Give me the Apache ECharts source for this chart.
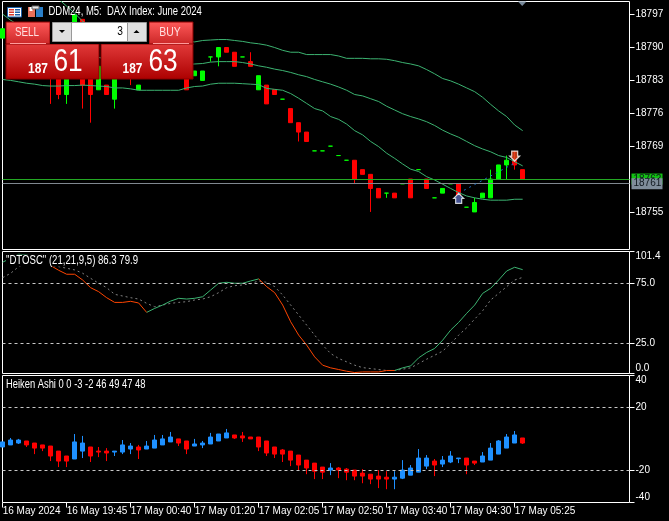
<!DOCTYPE html>
<html><head><meta charset="utf-8">
<style>html,body{margin:0;padding:0;background:#000}#c{width:669px;height:521px}</style>
<script src="https://cdn.jsdelivr.net/npm/echarts@6/dist/echarts.min.js"></script></head>
<body><div id="c"></div>
<script>
const tickLabels=["16 May 2024","16 May 19:45","17 May 00:40","17 May 01:20","17 May 02:05","17 May 02:50","17 May 03:40","17 May 04:30","17 May 05:25"];
const priceTicks=[18755,18769,18776,18783,18790,18797];
const oscTicks=[0,25,75,101.4];
const heikenTicks=[-40,-20,20,40];
const bid=18761, ask=18762;
// [open, close, low, high]
const priceCandles=[
[18792,18794,18792,18794],[18791,18792,18790,18793],[18792,18790,18789,18793],[18790,18788,18787,18791],[18788,18789,18787,18790],[18789,18786,18785,18790],
[18788,18785,18778,18789],[18785,18780,18779,18786],[18780,18786,18778,18787],[18786,18797,18785,18797],[18796,18782,18777,18796],[18786,18780,18774,18787],
[18781,18786,18781,18787],[18782,18780,18780,18782],[18779,18784,18777,18785],[18785,18784,18784,18786],[18785,18784,18782,18786],[18781,18782,18781,18782],
[18784,18786,18784,18787],[18786,18785,18784,18787],[18785,18787,18784,18788],[18787,18786,18785,18788],[18786,18784,18784,18787],[18785,18781,18781,18786],
[18784,18785,18784,18785],[18783,18785,18783,18785],[18788,18788,18787,18788],[18788,18790,18786,18790],[18790,18789,18789,18790],[18789,18786,18786,18789],
[18788,18788,18788,18788],[18787,18786,18786,18789],[18781,18784,18781,18784],[18782,18778,18778,18782],[18781,18780,18780,18781],[18779,18779,18779,18779],
[18777,18774,18774,18777],[18774,18772,18770,18774],[18772,18770,18770,18772],[18768,18768,18768,18768],[18768,18768,18768,18768],[18769,18769,18769,18769],
[18767,18767,18767,18767],[18766,18766,18766,18766],[18766,18762,18761,18766],[18764,18763,18763,18764],[18763,18760,18755,18763],[18760,18758,18758,18760],
[18759,18759,18758,18759],[18759,18758,18758,18759],[18761,18761,18761,18761],[18762,18758,18758,18762],[18764,18764,18764,18764],[18762,18760,18760,18762],
[18758,18758,18758,18758],[18759,18760,18759,18760],[18761,18761,18761,18761],[18761,18757,18757,18761],[18756,18756,18756,18756],[18755,18757,18755,18758],
[18758,18759,18758,18759],[18758,18762,18758,18764],[18762,18765,18762,18765],[18765,18766,18762,18767],[18766,18765,18764,18768],[18764,18762,18762,18764]];
const upperBand=[null,null,null,null,null,null,18802,18800.3,18798.8,18797.3,18795.6,18794.4,18793.9,18793.4,18793,18792.7,18792.4,18792.2,18792,18791.8,18791.6,18791.5,18791.4,18791.3,18791.2,18791.5,18791.6,18791.7,18791.7,18791.5,18791.3,18791,18790.8,18790.5,18790,18789.4,18789,18789,18788.5,18788.5,18788.5,18788.5,18788.2,18787.7,18787.7,18787.7,18787.6,18787.6,18787.5,18787.2,18786.8,18786.5,18786.1,18785.3,18784.4,18783.4,18782.9,18782.2,18781.4,18780.6,18779.4,18777.9,18776.5,18775.3,18773.5,18772.3];
const middleBand=[18797.1,18795.8,18794.8,18793.7,18793,18792.3,18791.6,18790.9,18790.2,18789.5,18788.9,18788.4,18787.9,18787.5,18787.2,18786.9,18786.8,18786.6,18786.5,18786.4,18786.3,18786.3,18786.3,18786.4,18786.5,18786.6,18786.9,18787,18787,18787,18786.8,18786.5,18786.1,18785.8,18785.4,18785.1,18784.7,18784.2,18783.8,18783.2,18782.7,18782.2,18781.6,18780.9,18780,18779.7,18779.1,18778.5,18777.5,18776.7,18775.9,18775.3,18774.8,18774.2,18773.4,18772.4,18771.6,18770.9,18770,18769.1,18768.4,18767.8,18767,18766.6,18765.7,18764.8];
const lowerBand=[18783.2,18783,18782.7,18782.4,18782.2,18781.9,18781.8,18781.8,18781.9,18781.9,18782,18781.9,18781.8,18781.7,18781.4,18781.4,18781.2,18780.9,18780.9,18780.9,18780.9,18780.9,18780.9,18781.4,18781.7,18781.8,18782.2,18782.4,18782.4,18782.4,18782.3,18782.2,18782.1,18781.3,18781.1,18780.9,18780.2,18779.2,18778.1,18777,18776.5,18775.3,18774.7,18773.7,18772.3,18771.4,18770,18768.9,18767.5,18766.4,18765.2,18764.1,18763.6,18762.5,18761.8,18760.9,18760,18759.1,18758.4,18758,18757.7,18757.5,18757.5,18757.5,18757.7,18757.7];
const tradeLine=[[57,18759],[64,18765.4]];
const buyArrows=[[57,18757.9]];
const sellArrows=[[64,18766.9]];
const oscMain=[92.5,95.8,99.1,98.6,96.3,93,89.7,85.8,82.5,82.5,77.7,71.3,68,63,59.1,59.1,60,58.6,50.8,54.1,56.9,60.2,62.5,61.9,62.5,63.8,69.4,75,75.8,75,75,76.9,78.6,72.2,67.2,56.9,43,31.9,23.6,13.8,6.9,4.7,3.3,1.9,0.8,1.3,1.3,1.3,2.5,2.5,4.7,6.3,13,17.5,20.8,27.7,36.1,42.5,50,56.9,66.6,70.8,77.7,85.2,88.3,86.3];
const oscSignal=[79.7,83.3,88.8,91.6,91.6,90.2,89.7,88.8,87.5,86.1,83.3,79.1,75,71.3,65.8,64.4,63,61.9,58.3,55.5,56.9,58.3,59.1,59.7,61.1,61.9,63.8,67.2,71.3,73,73.6,74.7,76.9,75.8,72.2,65.2,56.9,48.6,40.2,31.9,23.6,16.6,12.5,9.7,6.9,4.9,4.1,3.3,2.5,2.5,3.6,4.7,8.3,11.9,15.2,18.6,24.9,31.9,38,45.2,52.2,61.1,66.6,72.2,77.7,79.9];
// index ranges of the main line that are drawn red (falling); the rest is green
const oscFallingRanges=[[6,18],[32,49]];
const heikenCandles=[
[-5.2,-2,-5.2,-2],[-3.9,-0.8,-3.9,0.5],[-2.7,-0.8,-3.3,-0.1],[-1.4,-3.9,-5.2,-1.4],[-2.7,-5.9,-9.7,-2.7],[-3.9,-5.9,-7.8,-3.9],[-4.6,-10.9,-14.1,-4.6],[-7.8,-14.1,-17.9,-7.8],[-10.9,-14.1,-17.9,-10.9],[-12.8,-2,-12.8,3],
[-7.8,-2.7,-12.2,1.8],[-5.2,-10.9,-14.7,-5.2],[-7.8,-8.4,-11.6,-5.2],[-7.8,-9,-14.1,-5.9],[-8.4,-7.8,-10.9,-7.8],[-8.4,-3.9,-9.7,-0.8],[-6.5,-4.6,-9.7,-2.7],[-5.2,-7.1,-12.8,-3.9],[-6.5,-4.6,-6.5,-1.4],[-5.9,-0.8,-5.9,2.4],
[-3.9,-0.1,-3.9,2.4],[-2,1.1,-2,4.3],[-0.1,-2.7,-4.6,-0.1],[-1.4,-6.5,-9.7,-1.4],[-4.6,-3.3,-4.6,-0.1],[-3.9,-2.7,-5.9,-1.4],[-3.3,1.1,-3.3,3.7],[-1.4,3,-1.4,3],[0.5,3.7,0.5,6.2],[2.4,0.5,-0.1,2.4],
[1.8,0.5,-2,4.3],[1.1,-0.1,-0.1,1.1],[1.1,-5.2,-7.8,1.1],[-1.4,-9,-10.9,-1.4],[-5.2,-9.7,-12.2,-5.2],[-7.1,-9.7,-14.7,-6.5],[-7.8,-13.5,-17.3,-7.8],[-10.3,-16.6,-19.8,-10.3],[-13.5,-18.5,-22.4,-13.5],[-15.4,-20.5,-25.5,-15.4],
[-17.9,-21.1,-25.5,-17.9],[-19.8,-18.5,-23,-15.4],[-18.5,-19.8,-24.9,-17.9],[-19.2,-21.1,-26.2,-18.5],[-19.8,-23.6,-26.2,-19.8],[-21.7,-23.6,-28.1,-19.2],[-22.4,-25.5,-28.7,-22.4],[-23.6,-25.5,-31.2,-19.8],[-24.3,-25.5,-31.9,-20.5],[-25.5,-24.3,-31.9,-20.5],
[-24.9,-19.8,-25.5,-13.5],[-23,-18.5,-23,-16.6],[-21.1,-12.2,-21.1,-6.5],[-17.3,-12.2,-19.2,-10.3],[-14.1,-16.6,-23.6,-12.8],[-16,-13.5,-17.9,-10.9],[-14.7,-10.9,-15.4,-7.8],[-12.6,-12.2,-15.4,-12.2],[-12.2,-16.6,-22.4,-12.2],[-14.1,-15.4,-16.6,-14.1],
[-14.7,-10.9,-14.7,-8.4],[-13.5,-5.9,-13.5,-2.7],[-9.7,-1.4,-9.7,-0.8],[-5.9,1.1,-5.9,3],[-2.7,2.4,-2.7,4.9],[0.5,-2.7,-3.3,0.5]];

const FONT='"Liberation Sans"';
const WHITE='#fff';
const categories=Array.from({length:79},(_,i)=>i%8===0?tickLabels[i/8]:' ');
const panels=[{top:1.5,height:248,min:18747,max:18799.8},{top:251.5,height:122,min:0,max:101.4},{top:375.5,height:127,min:-40.3,max:40}];

const grid=[],xAxis=[],yAxis=[];
panels.forEach((p,k)=>{
  grid.push({left:2.67,width:624,top:p.top,height:p.height,show:false,outerBoundsMode:'none'});
  xAxis.push({type:'category',gridIndex:k,data:categories,boundaryGap:false,show:k===2,position:'bottom',
    axisLine:{show:false,onZero:false},splitLine:{show:false},
    axisTick:{show:true,alignWithLabel:true,interval:7,length:5,lineStyle:{color:WHITE}},
    axisLabel:{interval:7,color:WHITE,fontFamily:FONT,fontSize:10,align:'left',margin:4,showMinLabel:true,showMaxLabel:false,hideOverlap:false}});
  yAxis.push({type:'value',gridIndex:k,min:p.min,max:p.max,show:false,splitLine:{show:false}});
});
const customTicks=[priceTicks,oscTicks,heikenTicks];
const fmt=[v=>String(v),v=>v.toFixed(1),v=>String(v)];
panels.forEach((p,k)=>{
  grid.push({left:2.5,width:627,top:p.top,height:p.height,show:true,borderColor:WHITE,borderWidth:1,backgroundColor:'transparent',outerBoundsMode:'none'});
  xAxis.push({type:'value',gridIndex:k+3,min:0,max:1,show:false,splitLine:{show:false}});
  yAxis.push({type:'value',gridIndex:k+3,position:'right',min:p.min,max:p.max,splitLine:{show:false},
    axisLine:{show:false,onZero:false},
    axisTick:{show:true,length:5,customValues:customTicks[k],lineStyle:{color:WHITE}},
    axisLabel:{customValues:customTicks[k],formatter:fmt[k],color:WHITE,fontFamily:FONT,fontSize:10,margin:6,
      hideOverlap:false,showMinLabel:true,showMaxLabel:true,
      verticalAlignMinLabel:k?'bottom':null,verticalAlignMaxLabel:k?'top':null}});
});
const level=(v)=>({yAxis:v});
const dashed={type:[3,3],color:'#c8c8c8',width:1};
function levelSeries(idx,vals){return {type:'line',xAxisIndex:idx,yAxisIndex:idx,data:[],silent:true,
  markLine:{silent:true,symbol:'none',animation:false,label:{show:false},lineStyle:dashed,data:vals.map(level)}};}
function priceLine(v,color,bg,z){return {type:'line',xAxisIndex:3,yAxisIndex:3,data:[],z:z,silent:true,
  markLine:{silent:true,symbol:'none',animation:false,z:z,lineStyle:{type:'solid',color:color,width:1},
    data:[{yAxis:v,label:{show:true,position:'end',distance:2,formatter:String(v),color:'#10181f',backgroundColor:bg,
      fontFamily:FONT,fontSize:10,width:27,height:11,lineHeight:11,align:'left',padding:[0,2,0,2]}}]}};}
function band(d){return {type:'line',xAxisIndex:0,yAxisIndex:0,data:d,showSymbol:false,smooth:false,lineStyle:{color:'#3cb371',width:1},silent:true,z:3};}
function candle(idx,d,up,down){return {type:'candlestick',xAxisIndex:idx,yAxisIndex:idx,data:d,barWidth:4,silent:true,z:2,
  itemStyle:{color:up,color0:down,borderColor:up,borderColor0:down,borderColorDoji:up,borderWidth:1}};}
const inRanges=i=>oscFallingRanges.some(r=>i>=r[0]&&i<=r[1]);
const oscRed=oscMain.map((v,i)=>inRanges(i)?v:null);
const oscGreen=oscMain.map((v,i)=>(!inRanges(i)||oscFallingRanges.some(r=>i===r[0]||i===r[1]))?v:null);
const upPath='path://M5 0L10 5L8 5L8 10L2 10L2 5L0 5Z';
const downPath='path://M2 0L8 0L8 5L10 5L5 10L0 5L2 5Z';

const series=[
  priceLine(ask,'#23a823','#12c012',4),
  priceLine(bid,'#808890','#7f8d9b',5),
  levelSeries(4,[25,75]),levelSeries(5,[-20,20]),
  candle(0,priceCandles,'#00ff00','#ff0000'),
  band(upperBand),band(middleBand),band(lowerBand),
  {type:'line',xAxisIndex:0,yAxisIndex:0,data:tradeLine,showSymbol:false,silent:true,z:6,lineStyle:{color:'#1a6fc4',width:1,type:[2,4]}},
  {type:'scatter',xAxisIndex:0,yAxisIndex:0,data:buyArrows,symbol:upPath,symbolSize:10,silent:true,z:7,itemStyle:{color:'#1464b4',borderColor:'#fff',borderWidth:1.2}},
  {type:'scatter',xAxisIndex:0,yAxisIndex:0,data:sellArrows,symbol:downPath,symbolSize:10,silent:true,z:7,itemStyle:{color:'#e8491e',borderColor:'#fff',borderWidth:1.2}},
  {type:'line',xAxisIndex:1,yAxisIndex:1,data:oscSignal,showSymbol:false,silent:true,z:2,lineStyle:{color:'#808080',width:1,type:[2,3]}},
  {type:'line',xAxisIndex:1,yAxisIndex:1,data:oscGreen,showSymbol:false,silent:true,z:3,lineStyle:{color:'#3cb371',width:1}},
  {type:'line',xAxisIndex:1,yAxisIndex:1,data:oscRed,showSymbol:false,silent:true,z:3,lineStyle:{color:'#ff4500',width:1}},
  candle(2,heikenCandles,'#1e90ff','#ff0000')
];

const grad=(a,b)=>({type:'linear',x:0,y:0,x2:0,y2:1,colorStops:[{offset:0,color:a},{offset:1,color:b}]});
const rect=(x,y,w,h,fill,stroke)=>({type:'rect',z:100,shape:{x,y,width:w,height:h},style:{fill,stroke:stroke||null,lineWidth:stroke?1:0},silent:true});
const txt=(x,y,text,size,opt,sx)=>({type:'text',z:110,x,y,scaleX:sx||1,silent:true,style:Object.assign({text,fill:WHITE,fontFamily:FONT,fontSize:size,verticalAlign:'middle',align:'left'},opt||{})});
const poly=(points,fill)=>({type:'polygon',z:105,shape:{points},style:{fill},silent:true});
const graphic=[
  poly([[518,1.5],[526.5,1.5],[522.2,6]],'#778899'),
  txt(6,260.5,'"DTOSC" (21,21,9,5) 86.3 79.9',12,{backgroundColor:'#000'},0.8),
  txt(6,384.5,'Heiken Ashi 0 0 -3 -2 46 49 47 48',12,null,0.78),
  txt(48.5,11.5,'DDM24, M5:  DAX Index: June 2024',12,null,0.79),
  // menu icons
  rect(7.5,7.5,14,9.5,'#fff','#1b5fa8'),
  rect(9,9,5,1.5,'#d8392b'),rect(9,11.5,5,1.5,'#d8392b'),rect(9,14,5,1.5,'#d8392b'),
  rect(15,9,5,1.5,'#1b5fa8'),rect(15,11.5,5,1.5,'#1b5fa8'),rect(15,14,5,1.5,'#1b5fa8'),
  rect(28,7,7,10,'#e8705a'),rect(29.5,7,3,4,'#fff'),rect(36,7,7,10,'#2a7fc8'),rect(32,6,7,3,'#e8e8e8','#666'),
  // one-click trading panel
  rect(6,22,44,23,grad('#ff5a5a','#c82424'),'#8a0000'),
  rect(149,22,44,23,grad('#ff5a5a','#c82424'),'#8a0000'),
  rect(6,44,93,35,grad('#e23a3a','#ac0000'),'#8a0000'),
  rect(101,44,92,35,grad('#e23a3a','#ac0000'),'#8a0000'),
  rect(10,43,36,1,'#ff9a9a'),rect(153,43,36,1,'#ff9a9a'),
  rect(50,22,99,22,'#000'),
  rect(52.5,22.5,19,19,'#e0e0e0','#999'),rect(71.5,22.5,56,19,'#fff','#999'),rect(127.5,22.5,19,19,'#e0e0e0','#999'),
  poly([[59,30],[65,30],[62,33]],'#000'),
  poly([[133.5,33],[139.5,33],[136.5,30]],'#000'),
  txt(123,32,'3',12,{fill:'#000',align:'right'},0.85),
  txt(27,32.5,'SELL',13,{align:'center',fill:'#ffe0e0'},0.76),
  txt(170,32.5,'BUY',13,{align:'center',fill:'#ffe0e0'},0.8),
  txt(38,69,'187',14,{align:'center',fontWeight:'bold'},0.85),
  txt(68,62,'61',32,{align:'center'},0.82),
  txt(132.5,69,'187',14,{align:'center',fontWeight:'bold'},0.85),
  txt(163,62,'63',32,{align:'center'},0.82)
];
const chart=echarts.init(document.getElementById('c'),null,{renderer:'canvas'});
chart.setOption({animation:false,backgroundColor:'#000',grid,xAxis,yAxis,series,graphic,tooltip:{show:false}});
</script></body></html>
